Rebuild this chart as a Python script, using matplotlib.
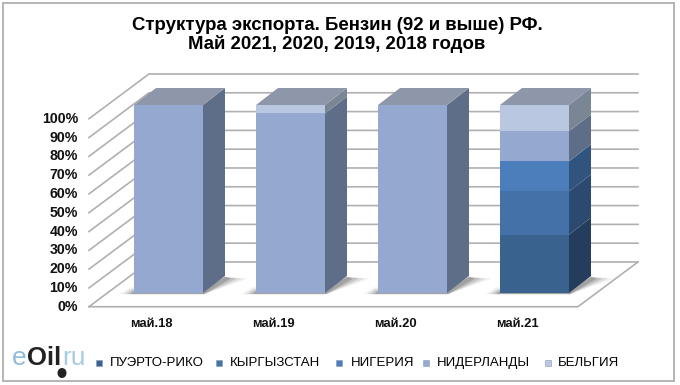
import matplotlib
matplotlib.use('Agg')
import matplotlib.pyplot as plt
from matplotlib.patches import Polygon, Rectangle, Ellipse

plt.rcParams['font.family'] = ['Liberation Sans', 'DejaVu Sans']

categories = ['май.18', 'май.19', 'май.20', 'май.21']
series = ['ПУЭРТО-РИКО', 'КЫРГЫЗСТАН', 'НИГЕРИЯ', 'НИДЕРЛАНДЫ', 'БЕЛЬГИЯ']
puerto = [0, 0, 0, 31]
kyrgyz = [0, 0, 0, 23]
nigeria = [0, 0, 0, 16]
netherl = [100, 95.5, 100, 16]
belgium = [0, 4.5, 0, 14]
values = [puerto, kyrgyz, nigeria, netherl, belgium]
ticks = [0, 10, 20, 30, 40, 50, 60, 70, 80, 90, 100]

front = ['#3a628f', '#4472a8', '#4c7ebb', '#95a9d0', '#b9c7e0']
side = ['#253d5c', '#2c4a70', '#31547f', '#5f6e88', '#7b8695']
top_col = '#8e96a9'
grid_col = '#b0b0b0'

W, H = 680, 385
# one category = 122 px, one percent = 1.88 px
X0, Y0, SX, SY = 168.5, 293.0, 122.0, 1.88
bar_w = 69 / SX
dx = 22 / SX
dy = 17 / SY
# walls and floor, in data units
wall_l, wall_b = -0.652, -0.16
floor_r, floor_rb = 3.356, 3.848
floor_f, floor_b = -7.3, 16.5


def fx(px):
    return px / W


def fy(py):
    return 1 - py / H


fig = plt.figure(figsize=(6.8, 3.85), dpi=100)
fig.patch.set_facecolor('white')
ax = fig.add_axes([0, 0, 1, 1])
ax.set_xlim(-X0 / SX, (W - X0) / SX)
ax.set_ylim((Y0 - H) / SY, Y0 / SY)
ax.axis('off')

# frame
fig.add_artist(Rectangle((fx(3), fy(381)), fx(674) - fx(3), fy(3) - fy(381), fill=False,
                         ec='#b5b5b5', lw=1.4, transform=fig.transFigure))

# grid
for t in ticks:
    ax.plot([wall_l, wall_b, floor_rb], [floor_f + t, floor_b + t, floor_b + t],
            color=grid_col, lw=1.2, zorder=1, solid_joinstyle='miter')
ax.plot([wall_l, floor_r, floor_rb], [floor_f, floor_f, floor_b], color=grid_col, lw=1.2, zorder=1)

# bars
for i in range(len(categories)):
    left = i - bar_w / 2
    right = i + bar_w / 2
    # soft shadow on the floor
    for k, a in ((1.0, 0.08), (0.75, 0.13), (0.5, 0.2), (0.25, 0.28)):
        sh = Polygon([(left - 0.12 * k, -0.6), (right + 0.01, -0.6), (right + dx + 0.19 * k, dy * 0.85),
                      (right + dx, dy * 0.95), (right, 3 * k), (left - 0.03 * k, 3 * k)],
                     closed=True, fc='#555555', ec='none', alpha=a, zorder=2)
        ax.add_patch(sh)
    bottom = 0
    for j in range(len(series)):
        v = values[j][i]
        if v == 0:
            continue
        ax.bar(i, v, width=bar_w, bottom=bottom, color=front[j], edgecolor='none', zorder=4)
        ax.add_patch(Polygon([(right, bottom), (right + dx, bottom + dy),
                              (right + dx, bottom + v + dy), (right, bottom + v)],
                             closed=True, fc=side[j], ec='none', zorder=3))
        bottom += v
    ax.add_patch(Polygon([(left, bottom), (right, bottom), (right + dx, bottom + dy), (left + dx, bottom + dy)],
                         closed=True, fc=top_col, ec='none', zorder=3))
    ax.text(i - 0.14, -16.5, categories[i], ha='center', va='center', fontsize=9.4, fontweight='bold', color='#111111')

# y labels
for t in ticks:
    ax.text(wall_l - 0.09, floor_f + t, '%d%%' % t, ha='right', va='center', fontsize=10.2,
            fontweight='bold', color='#111111')

# title
fig.text(fx(337), fy(26), 'Структура экспорта. Бензин (92 и выше) РФ.', ha='center', va='center',
         fontsize=13.4, fontweight='bold', color='black')
fig.text(fx(337), fy(44), 'Май 2021, 2020, 2019, 2018 годов', ha='center', va='center',
         fontsize=13.4, fontweight='bold', color='black')

# legend
leg_marker = [99, 219, 339, 426, 548]
leg_text = [110, 230, 351, 437, 558]
for j in range(len(series)):
    ax.scatter((leg_marker[j] - X0) / SX, (Y0 - 363) / SY, marker='s', s=22, color=front[j], edgecolor='#8a9ab5',
               linewidths=0.4, zorder=5)
    fig.text(fx(leg_text[j]), fy(363), series[j], ha='left', va='center', fontsize=9.5, color='black')

# logo
fig.text(fx(12), fy(358), 'e', ha='left', va='center', fontsize=19, color='#8fbbdc')
fig.text(fx(27), fy(358), 'Oil', ha='left', va='center', fontsize=18.5, fontweight='bold', color='#222222')
fig.text(fx(62), fy(358), 'ru', ha='left', va='center', fontsize=19, color='#a8cce6')
ax.add_patch(Ellipse(((62 - X0) / SX, (Y0 - 373) / SY), 9 / SX, 10 / SY, fc='#222222', ec='none', zorder=6))

fig.savefig('out.png', dpi=100)
